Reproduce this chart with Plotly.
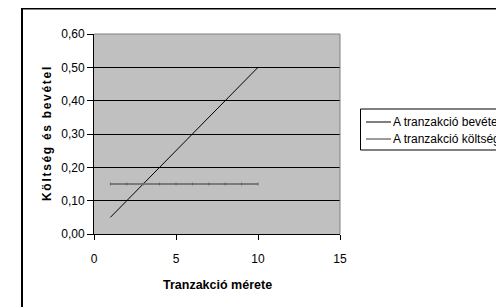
import plotly.graph_objects as go

x_values = [1, 2, 3, 4, 5, 6, 7, 8, 9, 10]
revenue = [0.05, 0.10, 0.15, 0.20, 0.25, 0.30, 0.35, 0.40, 0.45, 0.50]
cost = [0.15, 0.15, 0.15, 0.15, 0.15, 0.15, 0.15, 0.15, 0.15, 0.15]
series_names = ["A tranzakció bevétel", "A tranzakció költség"]
series_colors = ["black", "#7a7a7a"]
x_title = "Tranzakció mérete"
y_title = "Költség és bevétel"

FONT = "Liberation Sans, Arial, sans-serif"

# page body has an 8px margin; figure coordinates are page coords minus 8
W, H = 496, 299
L, T, PW, PH = 86, 26, 246, 200

def px(xpix):  # page x pixel -> paper x
    return (xpix - 8 - L) / PW

def py(ypix):  # page y pixel -> paper y
    return 1 - (ypix - 8 - T) / PH

fig = go.Figure()
fig.add_trace(go.Scatter(x=x_values, y=revenue, mode="lines", name=series_names[0],
                         line=dict(color=series_colors[0], width=1), showlegend=False))
fig.add_trace(go.Scatter(x=x_values, y=cost, mode="lines+markers", name=series_names[1],
                         line=dict(color=series_colors[1], width=2),
                         marker=dict(symbol="line-ns", size=2, line=dict(color="#5e5e5e", width=1)),
                         showlegend=False))

fig.update_layout(
    width=W, height=H,
    margin=dict(l=L, r=W - L - PW, t=T, b=H - T - PH, autoexpand=False),
    paper_bgcolor="white", plot_bgcolor="#C0C0C0",
    separators=", ",
    font=dict(family=FONT, size=12, color="black"),
    showlegend=False,
)
fig.update_xaxes(range=[0, 15], dtick=5, tick0=0, showgrid=False, zeroline=False,
                 showline=True, linecolor="black", linewidth=1,
                 ticks="outside", ticklen=5, tickcolor="black", tickwidth=1,
                 ticklabelstandoff=9, tickfont=dict(size=12))
fig.update_yaxes(range=[0, 0.6], dtick=0.1, tick0=0, tickformat=".2f",
                 showgrid=True, gridcolor="black", gridwidth=1, zeroline=False,
                 showline=True, linecolor="black", linewidth=1,
                 ticks="outside", ticklen=6, tickcolor="black", tickwidth=1,
                 tickfont=dict(size=12))

# plot-area border (top & right gray)
fig.add_shape(type="line", xref="paper", yref="paper", x0=0, x1=1, y0=1, y1=1,
              line=dict(color="#808080", width=1), layer="above")
fig.add_shape(type="line", xref="paper", yref="paper", x0=1, x1=1, y0=0, y1=1,
              line=dict(color="#808080", width=1), layer="above")
# outer chart border
fig.add_shape(type="rect", xref="paper", yref="paper", x0=px(22), x1=px(560), y0=py(8.5), y1=py(400),
              line=dict(color="black", width=2), fillcolor="rgba(0,0,0,0)", layer="below")

# legend box
fig.add_shape(type="rect", xref="paper", yref="paper", x0=px(360.5), x1=px(560), y0=py(109), y1=py(150),
              line=dict(color="black", width=1), fillcolor="white", layer="below")
for i, (name, col) in enumerate(zip(series_names, series_colors)):
    yy = 122 + i * 17
    fig.add_shape(type="line", xref="paper", yref="paper", x0=px(366), x1=px(391), y0=py(yy), y1=py(yy),
                  line=dict(color=col, width=1 if i == 0 else 1.5))
    fig.add_annotation(text=name,
                       xref="paper", yref="paper", x=px(391), y=py(yy),
                       xanchor="left", yanchor="middle", showarrow=False,
                       font=dict(family=FONT, size=12, color="black"))

fig.add_annotation(text=f"<b>{x_title}</b>", xref="paper", yref="paper", x=0.5, y=py(285),
                   showarrow=False, font=dict(family=FONT, size=12.5), yanchor="middle")
fig.add_annotation(text=f"<b><span style='letter-spacing:1.7px'>{y_title}</span></b>",
                   xref="paper", yref="paper", x=px(47), y=py(133),
                   textangle=-90, showarrow=False, font=dict(family=FONT, size=12),
                   xanchor="center", yanchor="middle")

fig.write_html("out.html")
